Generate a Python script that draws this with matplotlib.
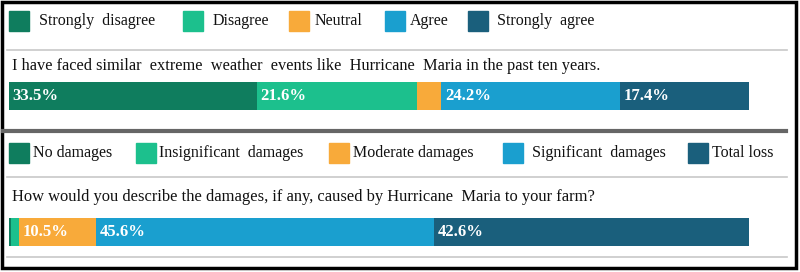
import matplotlib
matplotlib.use("Agg")
import matplotlib.pyplot as plt
from matplotlib.patches import Rectangle
from matplotlib.lines import Line2D
import numpy as np

# Données
q1_text = "I have faced similar  extreme  weather  events like  Hurricane  Maria in the past ten years."
q1_cats = ["Strongly  disagree", "Disagree", "Neutral", "Agree", "Strongly  agree"]
q1_vals = [33.5, 21.6, 3.3, 24.2, 17.4]
q1_labels = ["33.5%", "21.6%", "", "24.2%", "17.4%"]

q2_text = "How would you describe the damages, if any, caused by Hurricane  Maria to your farm?"
q2_cats = ["No damages", "Insignificant  damages", "Moderate damages", "Significant  damages", "Total loss"]
q2_vals = [0.3, 1.0, 10.5, 45.6, 42.6]
q2_labels = ["", "", "10.5%", "45.6%", "42.6%"]

colors = ["#0f7d5e", "#1cc08d", "#f8aa3a", "#1a9fcf", "#1a5f7c"]

W, H = 800, 272
fig = plt.figure(figsize=(W / 100, H / 100), dpi=100)
fig.patch.set_facecolor("white")
serif = "Liberation Serif"


def px(x, y):
    # pixels (origine en haut à gauche) -> coordonnées figure
    return x / W, 1 - y / H


def hline(y, x0, x1, lw, color):
    (a, yy), (b, _) = px(x0, y), px(x1, y)
    fig.add_artist(Line2D([a, b], [yy, yy], lw=lw, color=color, transform=fig.transFigure))


def legend_row(cats, sq_x, txt_x, y):
    for c, sx, tx, col in zip(cats, sq_x, txt_x, colors):
        fx, fy = px(sx, y + 10)
        fig.add_artist(Rectangle((fx, fy), 20 / W, 20 / H, color=col, transform=fig.transFigure))
        tx_, ty_ = px(tx, y)
        fig.text(tx_, ty_, c, family=serif, fontsize=11.5, va="center", ha="left", color="#111111")


def bar_row(vals, labels, y_top):
    x0, y0 = px(9, y_top + 28)
    ax = fig.add_axes([x0, y0, 740 / W, 28 / H])
    left = np.concatenate([[0], np.cumsum(vals)[:-1]])
    ax.barh([0], vals, left=left, color=colors, height=1.0, linewidth=0)
    for l, lab in zip(left, labels):
        if lab:
            ax.text(l + 0.5, 0, lab, color="white", fontweight="bold", family=serif,
                    fontsize=12, va="center", ha="left")
    ax.set_xlim(0, sum(vals))
    ax.set_ylim(-0.5, 0.5)
    ax.axis("off")


# Bloc 1
legend_row(q1_cats, [9, 183, 289, 385, 468], [39, 213, 315, 410, 497], 21)
hline(50, 7, 787, 1.2, "#c8c8c8")
fig.text(*px(12, 66), q1_text, family=serif, fontsize=11.8, va="center", ha="left", color="#111111")
bar_row(q1_vals, q1_labels, 82)
hline(131, 3, 786, 3, "#666666")

# Bloc 2
legend_row(q2_cats, [9, 136, 329, 503, 688], [33, 159, 353, 532, 712], 153)
hline(177, 7, 787, 1.2, "#c8c8c8")
fig.text(*px(12, 197), q2_text, family=serif, fontsize=11.9, va="center", ha="left", color="#111111")
bar_row(q2_vals, q2_labels, 218)
hline(257, 7, 787, 1.2, "#c8c8c8")

# Cadre noir
fig.add_artist(Rectangle((1.5 / W, 4 / H), 1 - 6 / W, 1 - 5.5 / H, fill=False,
                         edgecolor="black", lw=2.5, transform=fig.transFigure))

fig.savefig("out.png", dpi=100, facecolor="white")
